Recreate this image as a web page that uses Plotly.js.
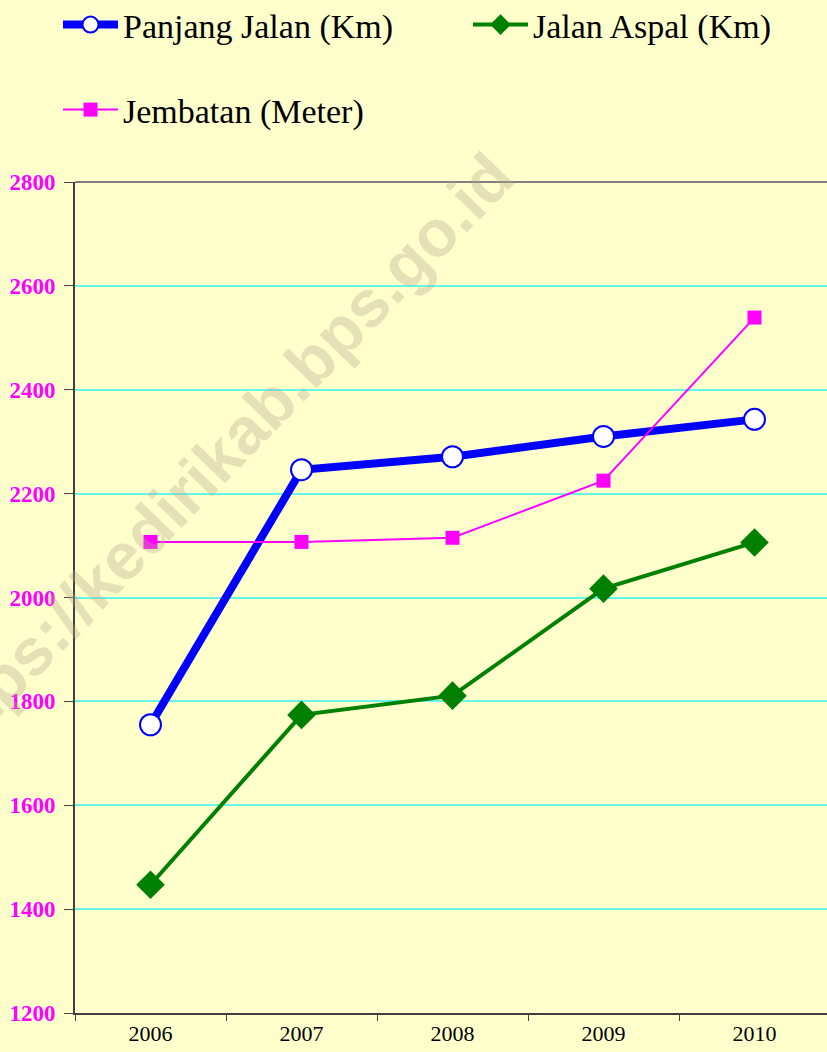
<!DOCTYPE html>
<html>
<head>
<meta charset="utf-8">
<script src="https://cdn.plot.ly/plotly-3.0.1.min.js"></script>
<style>
  html, body { margin: 0; padding: 0; background: #FFFFCC; overflow: hidden; }
  #chart { width: 834px; height: 1052px; }
</style>
</head>
<body>
<div id="chart"></div>
<script>
document.addEventListener('DOMContentLoaded', function () {
    // Data
    var years = ['2006', '2007', '2008', '2009', '2010'];
    var panjangJalan = [1755, 2246, 2271, 2310, 2343];
    var jalanAspal = [1447, 1774, 1811, 2017, 2106];
    var jembatan = [2107, 2107, 2115, 2225, 2539];
    var yTicks = [1200, 1400, 1600, 1800, 2000, 2200, 2400, 2600, 2800];

    var serif = 'Liberation Serif, Times New Roman, serif';

    var traces = [
        {
            x: years, y: panjangJalan, name: 'Panjang Jalan (Km)',
            type: 'scatter', mode: 'lines+markers', legend: 'legend',
            line: { color: '#0000FF', width: 8 },
            marker: { symbol: 'circle', size: 21, color: '#FFFFFF', line: { color: '#0000FF', width: 2 } }
        },
        {
            x: years, y: jalanAspal, name: 'Jalan Aspal (Km)',
            type: 'scatter', mode: 'lines+markers', legend: 'legend2',
            line: { color: '#008000', width: 4 },
            marker: { symbol: 'diamond', size: 22, color: '#008000' }
        },
        {
            x: years, y: jembatan, name: 'Jembatan (Meter)',
            type: 'scatter', mode: 'lines+markers', legend: 'legend3',
            line: { color: '#FF00FF', width: 2 },
            marker: { symbol: 'square', size: 14, color: '#FF00FF' }
        }
    ];

    // one legend per entry so each can sit where the reference has it
    var legendBase = {
        orientation: 'h',
        xref: 'container', yref: 'container',
        xanchor: 'left', yanchor: 'middle',
        bgcolor: 'rgba(0,0,0,0)',
        font: { family: serif, size: 34, color: '#000000' },
        itemwidth: 55
    };

    var layout = {
        width: 834,
        height: 1052,
        margin: { l: 75, r: 4, t: 182, b: 39 },
        paper_bgcolor: '#FFFFCC',
        plot_bgcolor: '#FFFFCC',
        showlegend: true,
        legend: Object.assign({}, legendBase, { x: 58 / 834, y: 1 - 25 / 1052 }),
        legend2: Object.assign({}, legendBase, { x: 468 / 834, y: 1 - 25 / 1052 }),
        legend3: Object.assign({}, legendBase, { x: 58 / 834, y: 1 - 110 / 1052 }),
        xaxis: {
            type: 'category',
            range: [-0.5, 4.5],
            showgrid: false,
            showline: true,
            linecolor: '#404040',
            linewidth: 2,
            ticks: 'outside',
            tickson: 'boundaries',
            ticklen: 6,
            tickcolor: '#404040',
            tickfont: { family: serif, size: 22, color: '#000000' },
            zeroline: false
        },
        yaxis: {
            range: [1200, 2800],
            tickvals: yTicks,
            ticktext: yTicks.map(String),
            showgrid: true,
            gridcolor: '#66F5E6',
            gridwidth: 2,
            showline: true,
            linecolor: '#404040',
            linewidth: 2,
            ticks: 'outside',
            ticklen: 9,
            tickcolor: '#404040',
            ticklabelstandoff: 4,
            tickfont: { family: serif, size: 23, color: '#FF00FF', weight: 'bold' },
            zeroline: false
        },
        shapes: [{
            type: 'line', xref: 'paper', yref: 'paper',
            x0: 0, x1: 1, y0: 1, y1: 1,
            line: { color: '#808080', width: 2 }
        }],
        annotations: [{
            text: '<b>https://kedirikab.bps.go.id</b>',
            xref: 'paper', yref: 'paper',
            x: 0.186, y: 0.665,
            xanchor: 'center', yanchor: 'middle',
            showarrow: false,
            textangle: -46,
            font: { family: 'Liberation Sans, Arial, sans-serif', size: 66, color: 'rgba(180,170,140,0.35)' }
        }]
    };

    Plotly.newPlot('chart', traces, layout, { displayModeBar: false, staticPlot: true });
});
</script>
</body>
</html>
